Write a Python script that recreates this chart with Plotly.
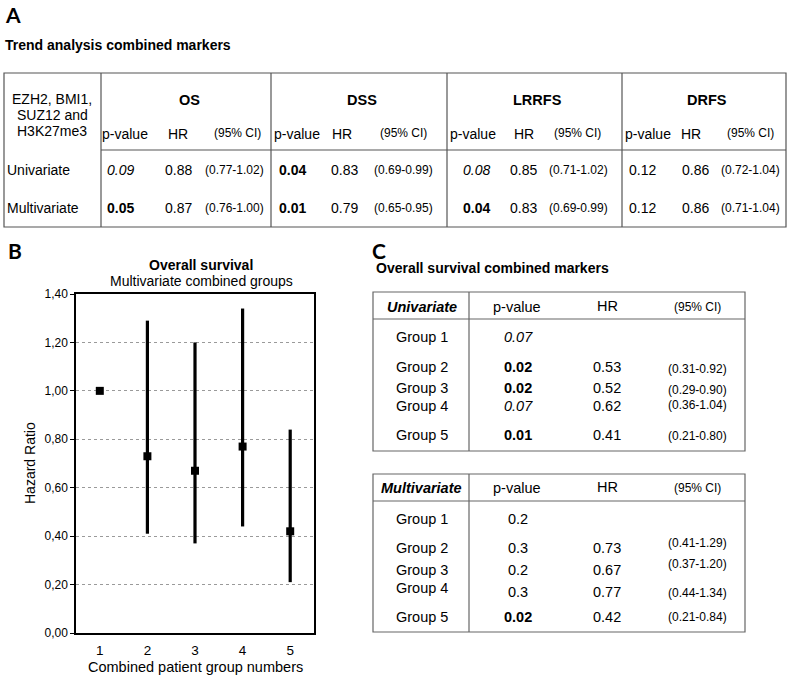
import plotly.graph_objects as go

W, H = 790, 677

# ---------------- Data ----------------
# Panel A: trend analysis combined markers
endpoints = ["OS", "DSS", "LRRFS", "DRFS"]
uni_p = ["0.09", "0.04", "0.08", "0.12"]
uni_p_style = ["i", "b", "i", ""]
uni_hr = ["0.88", "0.83", "0.85", "0.86"]
uni_ci = ["(0.77-1.02)", "(0.69-0.99)", "(0.71-1.02)", "(0.72-1.04)"]
multi_p = ["0.05", "0.01", "0.04", "0.12"]
multi_p_style = ["b", "b", "b", ""]
multi_hr = ["0.87", "0.79", "0.83", "0.86"]
multi_ci = ["(0.76-1.00)", "(0.65-0.95)", "(0.69-0.99)", "(0.71-1.04)"]

# Panel B: multivariate hazard ratios per combined group
group_numbers = [1, 2, 3, 4, 5]
hr_values = [1.00, 0.73, 0.67, 0.77, 0.42]
ci_low = [None, 0.41, 0.37, 0.44, 0.21]
ci_high = [None, 1.29, 1.20, 1.34, 0.84]

# Panel C: overall survival combined markers
group_labels = ["Group 1", "Group 2", "Group 3", "Group 4", "Group 5"]
c_uni_p = ["0.07", "0.02", "0.02", "0.07", "0.01"]
c_uni_p_style = ["i", "b", "b", "i", "b"]
c_uni_hr = ["", "0.53", "0.52", "0.62", "0.41"]
c_uni_ci = ["", "(0.31-0.92)", "(0.29-0.90)", "(0.36-1.04)", "(0.21-0.80)"]
c_multi_p = ["0.2", "0.3", "0.2", "0.3", "0.02"]
c_multi_p_style = ["", "", "", "", "b"]
c_multi_hr = ["", "0.73", "0.67", "0.77", "0.42"]
c_multi_ci = ["", "(0.41-1.29)", "(0.37-1.20)", "(0.44-1.34)", "(0.21-0.84)"]

# ---------------- Helpers ----------------
FONT = "Liberation Sans, Arial, sans-serif"
LETTER_FONT = "Lato, Open Sans, sans-serif"
annotations = []
shapes = []


def px(x):
    return x / W


def py(y):
    return 1 - y / H


def style(t, s):
    if s == "b":
        return "<b>" + t + "</b>"
    if s == "i":
        return "<i>" + t + "</i>"
    return t


def txt(x, y, text, size=14, anchor="center", family=FONT, angle=0):
    if text == "":
        return
    annotations.append(dict(
        x=px(x), y=py(y), xref="paper", yref="paper", text=text,
        showarrow=False, xanchor=anchor, yanchor="middle", textangle=angle,
        borderpad=0,
        font=dict(family=family, size=size, color="black")))


def line(x0, y0, x1, y1, color="#555", width=1.2):
    shapes.append(dict(type="line", xref="paper", yref="paper",
                       x0=px(x0), y0=py(y0), x1=px(x1), y1=py(y1),
                       line=dict(color=color, width=width)))


def rect(x0, y0, x1, y1, color="#555", width=1.2):
    shapes.append(dict(type="rect", xref="paper", yref="paper",
                       x0=px(x0), y0=py(y0), x1=px(x1), y1=py(y1),
                       line=dict(color=color, width=width)))


# ---------------- Panel A ----------------
txt(4, 15, "<b>A</b>", size=21, anchor="left", family=LETTER_FONT)
txt(4, 45, "<b>Trend analysis combined markers</b>", size=14, anchor="left")

a_top, a_bot, a_sub = 73, 227, 150
a_cols = [101, 271, 447, 622, 786]
rect(4, a_top, 786, a_bot)
for xc in a_cols[:-1]:
    line(xc, a_top, xc, a_bot)
line(101, a_sub, 786, a_sub)

txt(52, 99, "EZH2, BMI1,")
txt(52, 115, "SUZ12 and")
txt(52, 131, "H3K27me3")
txt(6, 170, "Univariate", anchor="left")
txt(6, 208, "Multivariate", anchor="left")

hdr_p = [125, 297, 473, 648]
hdr_hr = [178, 342, 524, 691]
hdr_ci = [237, 404, 577, 750]
val_p = [120, 292, 476, 642]
val_hr = [178, 344, 523, 695]
val_ci = [234, 404, 578, 750]
for i, ep in enumerate(endpoints):
    txt((a_cols[i] + a_cols[i + 1]) / 2 + 3, 100, "<b>" + ep + "</b>", size=14.5)
    txt(hdr_p[i], 134, "p-value")
    txt(hdr_hr[i], 134, "HR")
    txt(hdr_ci[i], 133, "(95% CI)", size=12)
    txt(val_p[i], 170, style(uni_p[i], uni_p_style[i]))
    txt(val_hr[i], 170, uni_hr[i])
    txt(val_ci[i], 170, uni_ci[i], size=12)
    txt(val_p[i], 208, style(multi_p[i], multi_p_style[i]))
    txt(val_hr[i], 208, multi_hr[i])
    txt(val_ci[i], 208, multi_ci[i], size=12)

# ---------------- Panel B ----------------
txt(7, 251, "<b>B</b>", size=21, anchor="left", family=LETTER_FONT)
txt(201, 265, "<b>Overall survival</b>", size=14)
txt(201, 281, "Multivariate combined groups", size=14)
txt(30, 463, "Hazard Ratio", size=14, angle=-90)
txt(195, 667, "Combined patient group numbers", size=14.5)

err_plus = [0 if h is None else h - v for h, v in zip(ci_high, hr_values)]
err_minus = [0 if l is None else v - l for l, v in zip(ci_low, hr_values)]

fig = go.Figure()
fig.add_trace(go.Scatter(
    x=group_numbers, y=hr_values, mode="markers",
    marker=dict(symbol="square", size=8, color="black"),
    error_y=dict(type="data", symmetric=False, array=err_plus,
                 arrayminus=err_minus, thickness=3.2, width=0, color="black"),
    hoverinfo="x+y"))

# ---------------- Panel C ----------------
txt(371, 250, "<b>C</b>", size=21, anchor="left", family=LETTER_FONT)
txt(375, 268, "<b>Overall survival combined markers</b>", size=14, anchor="left")

c_left, c_div, c_right = 373, 469, 745
x_p, x_hr, x_ci, x_g = 518, 607, 697, 422

# Univariate table
rect(c_left, 292, c_right, 451, color="#666")
line(c_div, 292, c_div, 451, color="#666")
line(c_left, 319, c_right, 319, color="#666")
txt(x_g, 307, "<b><i>Univariate</i></b>", size=14.5)
txt(517, 307, "p-value", size=14.5)
txt(x_hr, 306, "HR", size=14.5)
txt(x_ci, 307, "(95% CI)", size=12)
uni_rows = [337, 367, 388, 406, 435]
uni_ci_rows = [337, 369, 390, 405, 436]
for i, g in enumerate(group_labels):
    txt(x_g, uni_rows[i], g, size=14.5)
    txt(x_p, uni_rows[i], style(c_uni_p[i], c_uni_p_style[i]), size=14.5)
    txt(x_hr, uni_rows[i], c_uni_hr[i], size=14.5)
    txt(x_ci, uni_ci_rows[i], c_uni_ci[i], size=12)

# Multivariate table
rect(c_left, 474, c_right, 632, color="#666")
line(c_div, 474, c_div, 632, color="#666")
line(c_left, 501, c_right, 501, color="#666")
txt(x_g, 488, "<b><i>Multivariate</i></b>", size=14.5)
txt(517, 488, "p-value", size=14.5)
txt(x_hr, 487, "HR", size=14.5)
txt(x_ci, 488, "(95% CI)", size=12)
multi_label_rows = [519, 548, 570, 588, 617]
multi_val_rows = [519, 548, 570, 592, 617]
multi_ci_rows = [519, 543, 564, 593, 617]
for i, g in enumerate(group_labels):
    txt(x_g, multi_label_rows[i], g, size=14.5)
    txt(x_p, multi_val_rows[i], style(c_multi_p[i], c_multi_p_style[i]), size=14.5)
    txt(x_hr, multi_val_rows[i], c_multi_hr[i], size=14.5)
    txt(x_ci, multi_ci_rows[i], c_multi_ci[i], size=12)

# ---------------- Layout ----------------
fig.update_layout(
    width=W, height=H,
    margin=dict(l=0, r=0, t=0, b=0, pad=0, autoexpand=False),
    paper_bgcolor="white", plot_bgcolor="white",
    showlegend=False,
    separators=",.",
    font=dict(family=FONT, color="black"),
    annotations=annotations,
    shapes=shapes,
    xaxis=dict(
        domain=[px(76), px(314)], range=[0.5, 5.5],
        tickmode="array", tickvals=group_numbers,
        ticktext=[str(g) for g in group_numbers],
        showline=True, linecolor="black", linewidth=1.5, mirror=True,
        showgrid=False, zeroline=False, automargin=False,
        ticks="outside", ticklen=4, tickcolor="rgba(0,0,0,0)",
        tickfont=dict(size=13.5, family=FONT, color="black")),
    yaxis=dict(
        domain=[py(633), py(294)], range=[0, 1.4],
        tick0=0, dtick=0.2, tickformat=".2f",
        showline=True, linecolor="black", linewidth=1.5, mirror=True,
        showgrid=True, gridcolor="#9a9a9a", griddash="dot", gridwidth=1,
        zeroline=False, automargin=False,
        ticks="outside", ticklen=4, tickcolor="black", tickwidth=1,
        tickfont=dict(size=12, family=FONT, color="black")),
)

fig.write_html(
    "out.html",
    config={"displayModeBar": False},
    post_script="document.body.style.margin='0';document.body.style.overflow='hidden';",
)
